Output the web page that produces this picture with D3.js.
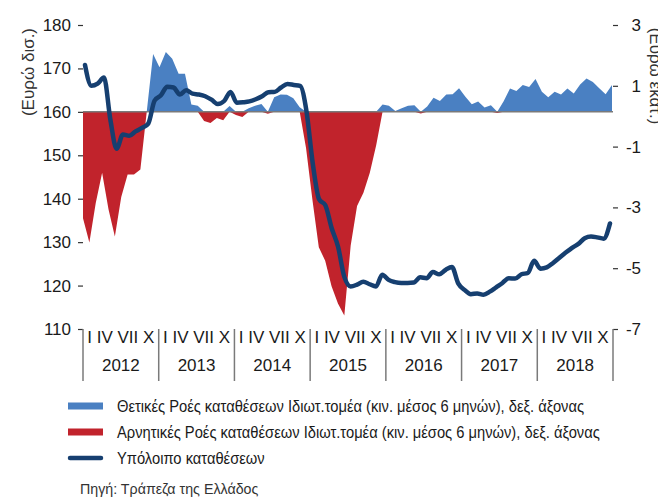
<!DOCTYPE html>
<html>
<head>
<meta charset="utf-8">
<script src="https://cdn.jsdelivr.net/npm/d3@7"></script>
<style>
  body { margin: 0; background: #fff; }
  svg { display: block; }
</style>
</head>
<body>
<script>
const years = ['2012', '2013', '2014', '2015', '2016', '2017', '2018'];
const monthTicks = ['I', 'IV', 'VII', 'X'];
const leftTicks = [110, 120, 130, 140, 150, 160, 170, 180];
const rightTicks = [3, 1, -1, -3, -5, -7];

// monthly deposit balance, Jan 2012 - Dec 2018 (left axis)
const deposits = [
  170.8, 166.0, 166.5, 167.9, 158.3, 151.5, 154.8, 154.5, 155.5, 156.3, 157.3, 162.6,
  163.8, 165.8, 165.6, 164.0, 165.0, 164.2, 164.0, 163.6, 162.8, 161.8, 162.5, 164.6,
  162.1, 162.2, 162.4, 162.9, 163.6, 164.5, 164.6, 165.6, 166.4, 166.2, 166.0, 160.3,
  148.2, 139.9, 138.5, 133.2, 129.0, 122.0, 119.8, 120.2, 120.9, 120.3, 119.8, 122.5,
  121.3, 120.8, 120.6, 120.6, 120.7, 121.9, 121.7, 123.1, 122.6, 123.6, 124.3, 120.5,
  119.0, 118.0, 118.2, 117.9, 118.6, 119.6, 120.6, 121.7, 121.6, 122.6, 122.9, 125.7,
  123.9, 124.2, 125.2, 126.4, 127.6, 128.7, 129.6, 130.9, 131.3, 131.1, 130.8, 134.3,
];

// private sector deposit flows, 6-month moving average (right axis)
const flows = [
  -3.5, -4.3, -3.0, -2.0, -3.2, -4.1, -2.8, -2.06, -2.06, -1.9, 0, 1.9,
  1.47, 1.97, 1.75, 1.25, 1.25, 0.24, 0.2, -0.3, -0.37, -0.2, -0.28, 0.19,
  -0.1, -0.17, 0.12, 0.2, 0.26, -0.06, 0.48, 0.57, 0.56, 0.45, 0.15, -1.2,
  -2.9, -4.45, -4.9, -5.74, -6.3, -6.7, -4.4, -3.1, -2.66, -2.0, -1.1, 0.24,
  0.2, 0.03, 0.12, 0.2, 0.22, -0.05, 0.18, 0.46, 0.36, 0.57, 0.58, 0.78,
  0.5, 0.25, 0.34, 0.14, 0.22, -0.04, 0.35, 0.77, 0.69, 0.88, 0.82, 1.08,
  0.66, 0.48, 0.66, 0.57, 0.77, 0.6, 0.9, 1.1, 0.98, 0.78, 0.58, 0.88,
];

const legendItems = [
  { label: 'Θετικές Ροές καταθέσεων Ιδιωτ.τομέα (κιν. μέσος 6 μηνών), δεξ. άξονας', type: 'pos' },
  { label: 'Αρνητικές Ροές καταθέσεων Ιδιωτ.τομέα (κιν. μέσος 6 μηνών), δεξ. άξονας', type: 'neg' },
  { label: 'Υπόλοιπο καταθέσεων', type: 'line' },
];

const W = 658, H = 498;
const m = { left: 83, right: 613, top: 25, bottom: 329 };
const blue = '#4a80c2', red = '#c1232c', navy = '#163f70', grey = '#7a7a7a';
const font = '"Liberation Sans", Arial, sans-serif';

const svg = d3.select('body').append('svg').attr('width', W).attr('height', H);

const yL = d3.scaleLinear([110, 180], [m.bottom, m.top]);
const yR = d3.scaleLinear([-7, 3], [m.bottom, m.top]);
// flows sit on the 160 line of the left axis, one unit = one right-axis unit
const base = yL(160);
const yF = d3.scaleLinear([0, 1], [base, base - (yR(0) - yR(1))]);
const xLine = d3.scaleLinear([0, deposits.length - 1], [85, 610]);
const xArea = d3.scaleLinear([0, flows.length - 1], [m.left, m.right - 1]);
const xYear = d3.scaleBand(years, [m.left, m.right]);

// flow areas
const posArea = d3.area()
  .x((d, i) => xArea(i))
  .y0(yF(0))
  .y1((d) => yF(Math.max(d, 0)));
const negArea = d3.area()
  .x((d, i) => xArea(i))
  .y0(yF(0))
  .y1((d) => yF(Math.min(d, 0)));

svg.append('path').datum(flows).attr('fill', blue).attr('d', posArea);
svg.append('path').datum(flows).attr('fill', red).attr('d', negArea);

svg.append('line')
  .attr('x1', m.left).attr('x2', m.right)
  .attr('y1', base).attr('y2', base)
  .attr('stroke', grey).attr('stroke-width', 1.5);

// deposit line
const line = d3.line()
  .x((d, i) => xLine(i))
  .y((d) => yL(d))
  .curve(d3.curveMonotoneX);

svg.append('path').datum(deposits)
  .attr('fill', 'none')
  .attr('stroke', navy)
  .attr('stroke-width', 4.5)
  .attr('stroke-linejoin', 'round')
  .attr('stroke-linecap', 'round')
  .attr('d', line);

// left axis
const gL = svg.append('g')
  .attr('transform', `translate(${m.left},0)`)
  .call(d3.axisLeft(yL).tickValues(leftTicks).tickSize(5).tickPadding(7));
gL.select('.domain').remove();

// right axis (plain hyphen for negatives, like the source)
const gR = svg.append('g')
  .attr('transform', `translate(${m.right},0)`)
  .call(d3.axisRight(yR).tickValues(rightTicks).tickSize(5).tickFormat((d) => String(d)));
gR.select('.domain').remove();
gR.selectAll('text').attr('x', 28).attr('text-anchor', 'end');

svg.selectAll('.tick line').attr('stroke', '#333').attr('stroke-width', 1.2);
svg.selectAll('.tick text')
  .attr('fill', '#1a1a1a')
  .style('font-family', font)
  .style('font-size', '17px');

// x axis: year separators and labels
const seps = years.map((y) => xYear(y)).concat([m.right]);
svg.selectAll('line.sep')
  .data(seps)
  .enter()
  .append('line')
  .attr('class', 'sep')
  .attr('x1', (d) => d).attr('x2', (d) => d)
  .attr('y1', m.bottom).attr('y2', 381)
  .attr('stroke', grey).attr('stroke-width', 1.5);

svg.selectAll('text.months')
  .data(years)
  .enter()
  .append('text')
  .attr('class', 'months')
  .attr('x', (d) => xYear(d) + xYear.bandwidth() / 2)
  .attr('y', 343)
  .attr('text-anchor', 'middle')
  .style('font-family', font)
  .style('font-size', '17px')
  .attr('fill', '#1a1a1a')
  .text(monthTicks.join(' '));

svg.selectAll('text.year')
  .data(years)
  .enter()
  .append('text')
  .attr('class', 'year')
  .attr('x', (d) => xYear(d) + xYear.bandwidth() / 2)
  .attr('y', 371)
  .attr('text-anchor', 'middle')
  .style('font-family', font)
  .style('font-size', '17px')
  .attr('fill', '#1a1a1a')
  .text((d) => d);

// axis titles
svg.append('text')
  .attr('transform', 'translate(34,72) rotate(-90)')
  .attr('text-anchor', 'middle')
  .style('font-family', font)
  .style('font-size', '17px')
  .attr('fill', '#333')
  .text('(Ευρώ δισ.)');

svg.append('text')
  .attr('transform', 'translate(650,76) rotate(90)')
  .attr('text-anchor', 'middle')
  .style('font-family', font)
  .style('font-size', '17px')
  .attr('fill', '#333')
  .text('(Ευρώ εκατ.)');

// legend
const lg = svg.append('g').attr('transform', 'translate(68,406)');
const rows = lg.selectAll('g')
  .data(legendItems)
  .enter()
  .append('g')
  .attr('transform', (d, i) => `translate(0,${i * 26})`);

rows.filter((d) => d.type != 'line')
  .append('rect')
  .attr('x', 0).attr('y', -3.5)
  .attr('width', 35).attr('height', 7)
  .attr('fill', (d) => (d.type == 'pos' ? blue : red));

rows.filter((d) => d.type == 'line')
  .append('line')
  .attr('x1', 2).attr('x2', 33)
  .attr('y1', 0).attr('y2', 0)
  .attr('stroke', navy).attr('stroke-width', 4.5)
  .attr('stroke-linecap', 'round');

// no condensed font installed: squeeze Liberation Sans horizontally
rows.append('text')
  .attr('transform', 'translate(49,6) scale(0.92,1)')
  .style('font-family', font)
  .style('font-size', '16px')
  .attr('fill', '#1a1a1a')
  .text((d) => d.label);

svg.append('text')
  .attr('transform', 'translate(80,494) scale(0.95,1)')
  .style('font-family', font)
  .style('font-size', '15px')
  .attr('fill', '#333')
  .text('Πηγή: Τράπεζα της Ελλάδος');
</script>
</body>
</html>
